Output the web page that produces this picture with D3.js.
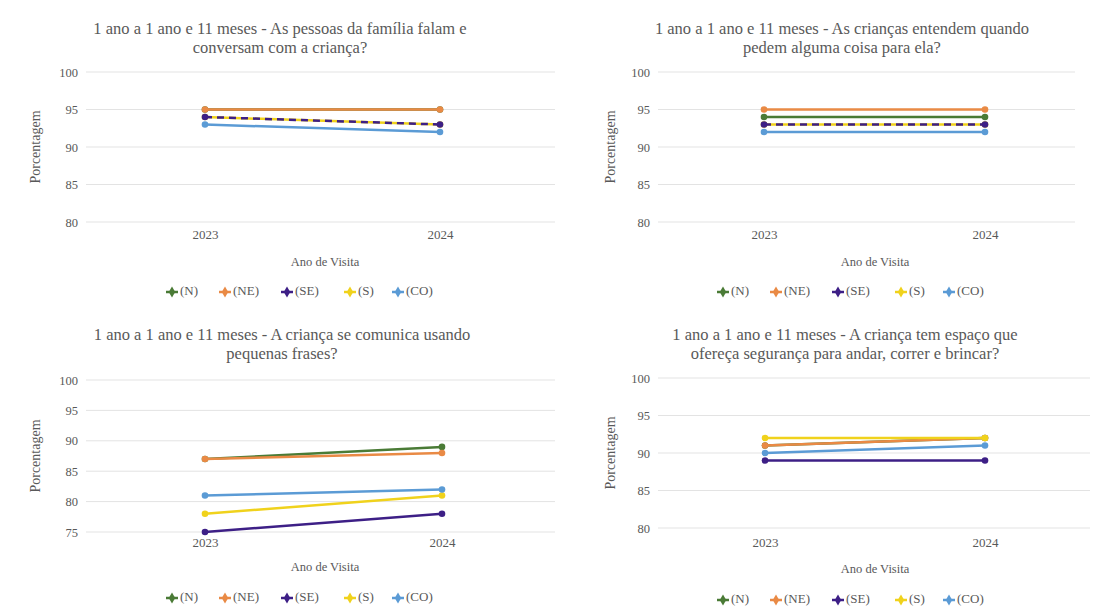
<!DOCTYPE html>
<html><head><meta charset="utf-8">
<script src="https://cdn.jsdelivr.net/npm/d3@7"></script>
<style>
html,body{margin:0;padding:0;background:#fff;}
svg text{font-family:"Liberation Serif","DejaVu Serif","Times New Roman",serif !important;fill:#595959;}
</style></head>
<body><svg id="c" width="1109" height="612"></svg>
<script>
// ---- data ----
const years = ["2023", "2024"];
const regions = ["(N)", "(NE)", "(SE)", "(S)", "(CO)"];
const titles1 = ["1 ano a 1 ano e 11 meses - As pessoas da família falam e", "conversam com a criança?"];
const titles2 = ["1 ano a 1 ano e 11 meses - As crianças entendem quando", "pedem alguma coisa para ela?"];
const titles3 = ["1 ano a 1 ano e 11 meses - A criança se comunica usando", "pequenas frases?"];
const titles4 = ["1 ano a 1 ano e 11 meses - A criança tem espaço que", "ofereça segurança para andar, correr e brincar?"];
// values per region, order: N, NE, SE, S, CO
const values1 = [[95, 95], [95, 95], [94, 93], [94, 93], [93, 92]];
const values2 = [[94, 94], [95, 95], [93, 93], [93, 93], [92, 92]];
const values3 = [[87, 89], [87, 88], [75, 78], [78, 81], [81, 82]];
const values4 = [[91, 92], [91, 92], [89, 89], [92, 92], [90, 91]];
const ticksA = [80, 85, 90, 95, 100];
const ticksB = [75, 80, 85, 90, 95, 100];
const xTitle = "Ano de Visita";
const yTitle = "Porcentagem";

// ---- style ----
const colors = ["#4a7b36", "#e98a45", "#3d1f86", "#f0d21c", "#5b9bd5"];
const drawOrder = [0, 1, 3, 2, 4];
const FONT = "'Liberation Serif','DejaVu Serif',serif";

const svg = d3.select("#c").attr("font-family", FONT);

const panels = [
  {titles: titles1, values: values1, ticks: ticksA, gx: [86, 555], px: [205, 440], py: [222, 72], ty: 30, tx: 280, xl: 238, at: 263, atx: 325, lg: 292, lgx: 305, ylx: 37, dash: true},
  {titles: titles2, values: values2, ticks: ticksA, gx: [658, 1075], px: [764, 985], py: [222, 72], ty: 30, tx: 842, xl: 238, at: 263, atx: 875, lg: 292, lgx: 856, ylx: 612, dash: true},
  {titles: titles3, values: values3, ticks: ticksB, gx: [86, 555], px: [205, 442], py: [532, 380], ty: 336, tx: 282, xl: 546, at: 568, atx: 325, lg: 598, lgx: 305, ylx: 37, dash: false},
  {titles: titles4, values: values4, ticks: ticksA, gx: [658, 1090], px: [765, 985], py: [528, 378], ty: 336, tx: 845, xl: 546, at: 570, atx: 875, lg: 600, lgx: 856, ylx: 612, dash: false}
];

panels.forEach(p => {
  const g = svg.append("g");
  const x = d3.scalePoint().domain(years).range(p.px);
  const y = d3.scaleLinear().domain([p.ticks[0], p.ticks[p.ticks.length - 1]]).range(p.py);

  p.titles.forEach((t, i) => {
    g.append("text").attr("x", p.tx).attr("y", p.ty + i * 19).attr("text-anchor", "middle")
      .attr("dominant-baseline", "middle").style("font-size", "16.5px").text(t);
  });

  g.append("g").selectAll("line").data(p.ticks).join("line")
    .attr("x1", p.gx[0]).attr("x2", p.gx[1])
    .attr("y1", d => y(d)).attr("y2", d => y(d))
    .attr("stroke", "#e3e3e3").attr("stroke-width", 1);

  const ya = g.append("g").attr("transform", `translate(${p.gx[0] - 4},0)`)
    .call(d3.axisLeft(y).tickValues(p.ticks).tickSize(0).tickPadding(4));
  ya.attr("font-family", FONT);
  ya.select(".domain").remove();
  ya.selectAll("text").style("font-size", "12.5px").style("fill", "#595959");

  const xa = g.append("g").attr("transform", `translate(0,${p.xl - 8})`)
    .call(d3.axisBottom(x).tickSize(0).tickPadding(0));
  xa.attr("font-family", FONT);
  xa.select(".domain").remove();
  xa.selectAll("text").style("font-size", "13px").style("fill", "#595959");

  g.append("text").attr("x", p.atx).attr("y", p.at).attr("text-anchor", "middle")
    .attr("dominant-baseline", "middle").style("font-size", "12.5px").text(xTitle);
  const yc = (p.py[0] + p.py[1]) / 2;
  g.append("text").attr("transform", `translate(${p.ylx},${yc}) rotate(-90)`)
    .attr("text-anchor", "middle").attr("dominant-baseline", "middle")
    .style("font-size", "14px").text(yTitle);

  const line = d3.line().x((d, i) => x(years[i])).y(d => y(d));
  drawOrder.forEach(si => {
    const vals = p.values[si];
    const dashed = p.dash && si === 2;
    g.append("path").datum(vals).attr("d", line).attr("fill", "none")
      .attr("stroke", colors[si]).attr("stroke-width", 2.5)
      .attr("stroke-dasharray", dashed ? "7,5" : null);
    g.selectAll(null).data(vals).join("circle")
      .attr("cx", (d, i) => x(years[i])).attr("cy", d => y(d)).attr("r", 3.3)
      .attr("fill", colors[si]);
  });

  const widths = [53, 62, 63, 48, 52];
  const total = d3.sum(widths);
  let lx = p.lgx - total / 2;
  regions.forEach((r, i) => {
    const lgG = g.append("g").attr("transform", `translate(${lx},${p.lg})`);
    lgG.append("line").attr("x1", 0).attr("x2", 12).attr("y1", 0).attr("y2", 0)
      .attr("stroke", colors[i]).attr("stroke-width", 2.5);
    lgG.append("path").attr("d", d3.symbol(d3.symbolDiamond, 36)()).attr("transform", "translate(6,0)")
      .attr("fill", colors[i]);
    lgG.append("text").attr("x", 14).attr("y", 0).attr("dominant-baseline", "middle")
      .style("font-size", "13px").text(r);
    lx += widths[i];
  });
});
</script></body></html>
